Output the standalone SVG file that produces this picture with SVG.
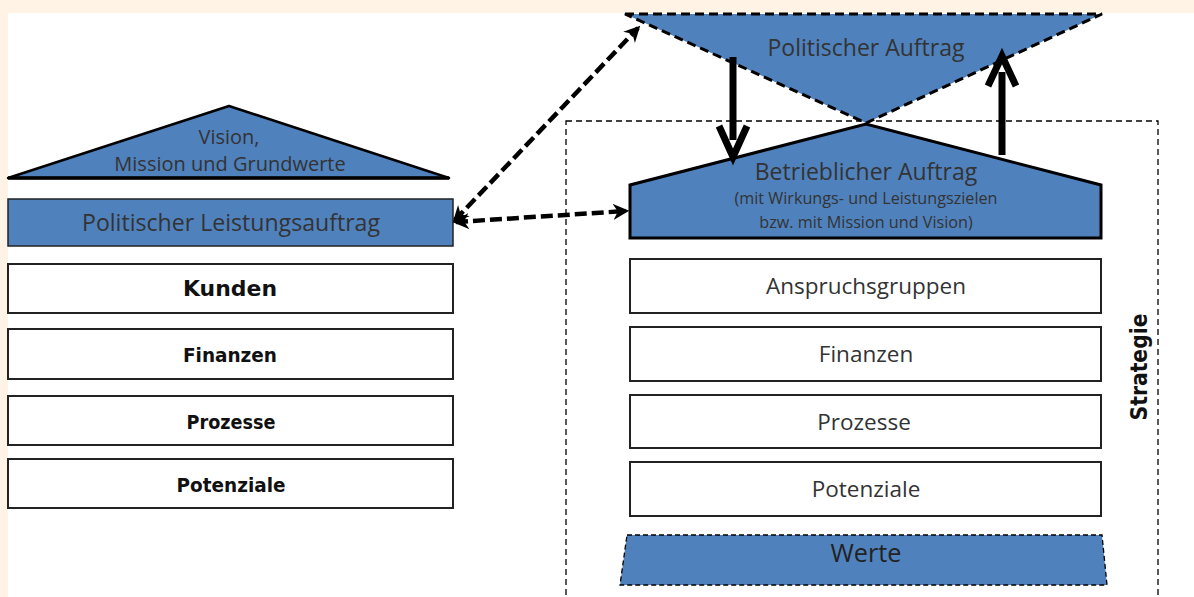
<svg xmlns="http://www.w3.org/2000/svg" width="1194" height="597" viewBox="0 0 1194 597">
<defs>
<style>
.bg{fill:#FFF3E6}
.blue{fill:#4F81BD}
.box{fill:#FFFFFF;stroke:#222;stroke-width:2}
.t{font-family:"Open Sans","Liberation Sans",sans-serif;fill:#333;text-anchor:middle}
.b{font-family:"DejaVu Sans","Liberation Sans",sans-serif;font-weight:bold;fill:#111;text-anchor:middle}
.dash{fill:none;stroke:#000;stroke-width:4.5;stroke-dasharray:12 5}
</style>
<marker id="ah" viewBox="0 0 10 10" refX="8" refY="5" markerWidth="3.6" markerHeight="3.6" orient="auto-start-reverse" markerUnits="strokeWidth">
<path d="M0,0 L10,5 L0,10 L3,5 Z" fill="#000"/>
</marker>
</defs>
<rect x="0" y="0" width="1194" height="597" fill="#FFFFFF"/>
<rect class="bg" x="0" y="0" width="1194" height="13"/>
<rect class="bg" x="0" y="0" width="8" height="597"/>

<g id="strategie">
<rect x="566" y="121" width="592" height="500" fill="none" stroke="#000" stroke-width="1.3" stroke-dasharray="6 4"/>
<text class="b" font-size="23" transform="translate(1147,367) rotate(-90)" textLength="107" lengthAdjust="spacingAndGlyphs">Strategie</text>
</g>

<g id="politischer-auftrag">
<polygon class="blue" points="625,14 1102,14 866,123" stroke="#000" stroke-width="3" stroke-dasharray="9 5"/>
<text class="t" font-size="23" x="866" y="56">Politischer Auftrag</text>
</g>

<g id="betrieblicher-auftrag">
<polygon class="blue" points="630,238 630,185 866,124 1101,185 1101,238" stroke="#000" stroke-width="3"/>
<text class="t" font-size="23" x="866" y="180">Betrieblicher Auftrag</text>
<text class="t" font-size="16.2" x="866" y="204">(mit Wirkungs- und Leistungszielen</text>
<text class="t" font-size="16.2" x="866" y="228">bzw. mit Mission und Vision)</text>
</g>

<g id="anspruchsgruppen">
<rect class="box" x="630" y="259" width="471" height="54"/>
<text class="t" font-size="22.5" x="866" y="294">Anspruchsgruppen</text>
</g>
<g id="finanzen-r">
<rect class="box" x="630" y="327" width="471" height="54"/>
<text class="t" font-size="22.5" x="866" y="362">Finanzen</text>
</g>
<g id="prozesse-r">
<rect class="box" x="630" y="395" width="471" height="53"/>
<text class="t" font-size="22.5" x="864" y="430">Prozesse</text>
</g>
<g id="potenziale-r">
<rect class="box" x="630" y="462" width="471" height="54"/>
<text class="t" font-size="22.5" x="866" y="497">Potenziale</text>
</g>
<g id="werte">
<polygon class="blue" points="627,535 1102,535 1107,585 620,585" stroke="#000" stroke-width="1.3" stroke-dasharray="5 3"/>
<text class="t" font-size="25" x="866" y="562" textLength="71" lengthAdjust="spacingAndGlyphs" style="fill:#222">Werte</text>
</g>

<g id="vision">
<polygon class="blue" points="8,178 229,106 449,178" stroke="#000" stroke-width="2.5" stroke-linejoin="round"/>
<line x1="8" y1="178" x2="449" y2="178" stroke="#000" stroke-width="3.5"/>
<text class="t" font-size="20" x="229" y="144">Vision,</text>
<text class="t" font-size="20" x="230" y="171">Mission und Grundwerte</text>
</g>
<g id="politischer-leistungsauftrag">
<rect x="8" y="199" width="445" height="47" fill="#4F81BD" stroke="#222" stroke-width="1.5"/>
<text class="t" font-size="23.5" x="231" y="231" textLength="298" lengthAdjust="spacingAndGlyphs">Politischer Leistungsauftrag</text>
</g>
<g id="kunden">
<rect class="box" x="8" y="264" width="445" height="49"/>
<text class="b" font-size="21" x="230" y="296" textLength="94" lengthAdjust="spacingAndGlyphs">Kunden</text>
</g>
<g id="finanzen-l">
<rect class="box" x="8" y="329" width="445" height="50"/>
<text class="b" font-size="19" x="230" y="362" textLength="94" lengthAdjust="spacingAndGlyphs">Finanzen</text>
</g>
<g id="prozesse-l">
<rect class="box" x="8" y="396" width="445" height="49"/>
<text class="b" font-size="19" x="231" y="429" textLength="89" lengthAdjust="spacingAndGlyphs">Prozesse</text>
</g>
<g id="potenziale-l">
<rect class="box" x="8" y="459" width="445" height="49"/>
<text class="b" font-size="19" x="231" y="492" textLength="109" lengthAdjust="spacingAndGlyphs">Potenziale</text>
</g>

<g id="connectors">
<path class="dash" d="M455,220 L638,28" marker-start="url(#ah)" marker-end="url(#ah)"/>
<path class="dash" d="M456,222 L626,211" marker-start="url(#ah)" marker-end="url(#ah)"/>
<line x1="733" y1="57" x2="733" y2="140" stroke="#000" stroke-width="7"/>
<path d="M719,126 L733,157 L747,126" fill="none" stroke="#000" stroke-width="7" stroke-linejoin="miter"/>
<line x1="1002" y1="155" x2="1002" y2="72" stroke="#000" stroke-width="7"/>
<path d="M988,86 L1002,56 L1016,86" fill="none" stroke="#000" stroke-width="7" stroke-linejoin="miter"/>
</g>
</svg>
